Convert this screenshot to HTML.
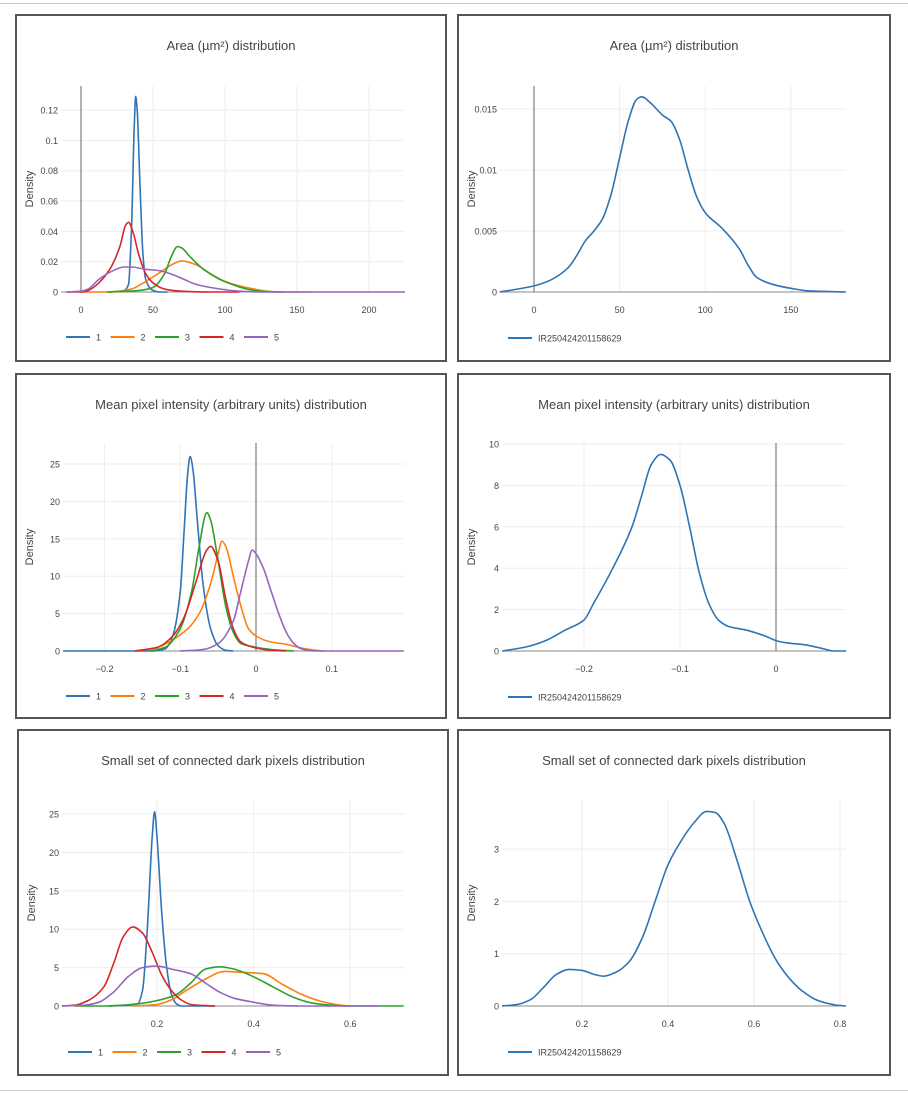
<!DOCTYPE html>
<html><head><meta charset="utf-8"><style>
html,body{margin:0;padding:0;background:#fff;}
svg{display:block;font-family:"Liberation Sans",sans-serif;}
</style></head><body>
<svg id="s" width="908" height="1094" xmlns="http://www.w3.org/2000/svg"></svg>
<script>
// ---- data ----
const seriesNames = ["1","2","3","4","5"];
const sampleName = "IR250424201158629";
const colors = ["#2f74b5","#ff7f0e","#2ca02c","#d62728","#9467bd"];

const areaS1 = [[20,0],[30,0.001],[33,0.005],[35,0.04],[37,0.11],[38,0.129],[39,0.12],[41,0.07],[43,0.025],[45,0.008],[50,0.001],[55,0],[60,0]];
const areaS2 = [[0,0],[20,0],[35,0.002],[45,0.007],[55,0.013],[65,0.019],[70,0.0205],[80,0.018],[90,0.012],[100,0.007],[110,0.004],[120,0.002],[135,0],[160,0]];
const areaS3 = [[18,0],[40,0.001],[50,0.003],[58,0.012],[63,0.024],[67,0.030],[70,0.029],[75,0.024],[85,0.015],[95,0.009],[105,0.005],[115,0.002],[125,0.0005],[140,0]];
const areaS4 = [[-10,0],[0,0],[5,0.001],[10,0.004],[20,0.015],[27,0.03],[31,0.044],[33,0.046],[36,0.04],[40,0.025],[45,0.012],[50,0.006],[55,0.003],[60,0.0015],[70,0.0005],[90,0],[110,0]];
const areaS5 = [[-10,0],[0,0.0005],[5,0.002],[12,0.008],[20,0.013],[30,0.0165],[35,0.0165],[45,0.015],[55,0.014],[62,0.012],[70,0.009],[80,0.005],[90,0.003],[100,0.0015],[110,0.0005],[130,0],[225,0]];
const areaSample = [[-20,0],[0,0.0005],[10,0.001],[20,0.002],[25,0.003],[30,0.0042],[35,0.005],[40,0.006],[45,0.008],[50,0.011],[55,0.014],[60,0.0158],[63,0.016],[68,0.0155],[75,0.0145],[80,0.014],[85,0.0125],[90,0.01],[95,0.0078],[100,0.0065],[110,0.0052],[120,0.0035],[125,0.0022],[130,0.0012],[140,0.0006],[150,0.0003],[160,0.0001],[182,0]];

const mpiS1 = [[-0.255,0],[-0.14,0],[-0.12,0.3],[-0.11,2],[-0.1,8],[-0.095,16],[-0.09,24],[-0.087,26],[-0.083,24],[-0.078,18],[-0.07,9],[-0.06,3],[-0.05,0.7],[-0.04,0.1],[-0.03,0]];
const mpiS2 = [[-0.16,0],[-0.13,0.5],[-0.11,1.5],[-0.09,3],[-0.075,5],[-0.06,9],[-0.05,13],[-0.045,14.7],[-0.04,14],[-0.03,10],[-0.02,6],[-0.01,3],[0,2],[0.02,1.2],[0.04,0.9],[0.06,0.4],[0.08,0.1],[0.09,0]];
const mpiS3 = [[-0.14,0],[-0.12,0.5],[-0.1,3],[-0.085,8],[-0.075,14],[-0.065,18.5],[-0.06,17.5],[-0.05,12],[-0.04,6],[-0.03,2.5],[-0.02,1],[0,0.5],[0.02,0.2],[0.05,0]];
const mpiS4 = [[-0.16,0],[-0.13,0.5],[-0.11,2],[-0.095,4.5],[-0.08,9],[-0.065,13.5],[-0.06,14],[-0.05,12],[-0.04,7],[-0.03,3],[-0.02,1.2],[0,0.4],[0.02,0.1],[0.04,0]];
const mpiS5 = [[-0.1,0],[-0.07,0.2],[-0.05,1],[-0.03,4],[-0.02,8],[-0.01,12],[-0.005,13.5],[0,13],[0.01,11],[0.02,8],[0.03,5],[0.04,2.5],[0.05,1],[0.06,0.3],[0.08,0],[0.195,0]];
const mpiSample = [[-0.285,0],[-0.26,0.2],[-0.24,0.5],[-0.22,1],[-0.2,1.5],[-0.19,2.3],[-0.17,4],[-0.15,6],[-0.14,7.5],[-0.13,9],[-0.12,9.5],[-0.11,9.2],[-0.1,8],[-0.09,6],[-0.08,3.8],[-0.07,2.3],[-0.06,1.5],[-0.05,1.2],[-0.03,1],[-0.01,0.7],[0,0.5],[0.01,0.4],[0.03,0.3],[0.05,0.1],[0.06,0],[0.073,0]];

const darkS1 = [[0.1,0],[0.16,0.3],[0.17,2],[0.18,10],[0.19,22],[0.195,25.3],[0.2,22],[0.21,12],[0.22,5],[0.23,1.5],[0.24,0.3],[0.25,0],[0.32,0]];
const darkS2 = [[0.15,0],[0.2,0.2],[0.23,0.8],[0.26,2],[0.3,3.5],[0.34,4.5],[0.37,4.4],[0.42,4.2],[0.46,2.8],[0.5,1.5],[0.54,0.6],[0.58,0.1],[0.6,0]];
const darkS3 = [[0.03,0],[0.1,0],[0.15,0.2],[0.2,0.7],[0.24,1.5],[0.27,3],[0.3,4.8],[0.33,5.1],[0.36,4.8],[0.4,3.8],[0.44,2.5],[0.48,1.2],[0.52,0.4],[0.56,0.1],[0.6,0],[0.71,0]];
const darkS4 = [[0.003,0],[0.03,0.1],[0.06,0.8],[0.09,2.5],[0.11,5.5],[0.13,9],[0.15,10.3],[0.17,9.5],[0.19,7],[0.21,4],[0.23,2],[0.25,0.8],[0.27,0.2],[0.3,0.05],[0.32,0]];
const darkS5 = [[0.003,0],[0.05,0.1],[0.08,0.5],[0.11,1.8],[0.14,3.8],[0.17,5],[0.2,5.2],[0.23,4.8],[0.27,4.2],[0.3,3],[0.33,1.8],[0.36,1],[0.4,0.5],[0.44,0.1],[0.5,0],[0.66,0]];
const darkSample = [[0.014,0],[0.05,0.03],[0.08,0.12],[0.11,0.35],[0.14,0.6],[0.17,0.7],[0.2,0.68],[0.23,0.6],[0.25,0.57],[0.28,0.65],[0.31,0.85],[0.34,1.3],[0.37,2],[0.4,2.7],[0.43,3.15],[0.46,3.5],[0.49,3.72],[0.51,3.7],[0.53,3.5],[0.56,2.8],[0.59,2],[0.62,1.4],[0.65,0.9],[0.68,0.55],[0.71,0.3],[0.75,0.1],[0.79,0.02],[0.814,0]];

const areaXTicks = [0,50,100,150,200];
const areaYTicks = [0,0.02,0.04,0.06,0.08,0.1,0.12];
const areaSampleYTicks = [0,0.005,0.01,0.015];
const areaSampleXTicks = [0,50,100,150];
const mpiXTicks = [-0.2,-0.1,0,0.1];
const mpiYTicks = [0,5,10,15,20,25];
const mpiSampleXTicks = [-0.2,-0.1,0];
const mpiSampleYTicks = [0,2,4,6,8,10];
const darkXTicks = [0.2,0.4,0.6];
const darkYTicks = [0,5,10,15,20,25];
const darkSampleXTicks = [0.2,0.4,0.6,0.8];
const darkSampleYTicks = [0,1,2,3];

// ---- rendering ----
const NS = "http://www.w3.org/2000/svg";
const svg = document.getElementById('s');
function el(tag, attrs, parent, text){
  const e = document.createElementNS(NS, tag);
  for (const k in attrs) e.setAttribute(k, attrs[k]);
  if (text !== undefined) e.textContent = text;
  (parent||svg).appendChild(e);
  return e;
}
// monotone cubic (Fritsch-Carlson) in screen coords
function smooth(p){
  const n=p.length;
  if(n<2) return "";
  const d=[],m=[];
  for(let i=0;i<n-1;i++) d.push((p[i+1][1]-p[i][1])/(p[i+1][0]-p[i][0]));
  m[0]=d[0]; m[n-1]=d[n-2];
  for(let i=1;i<n-1;i++){
    if(d[i-1]*d[i]<=0) m[i]=0;
    else { const h0=p[i][0]-p[i-1][0],h1=p[i+1][0]-p[i][0];
      const w1=2*h1+h0,w2=h1+2*h0; m[i]=(w1+w2)/(w1/d[i-1]+w2/d[i]); }
  }
  let s="M"+p[0][0].toFixed(1)+","+p[0][1].toFixed(1);
  for(let i=0;i<n-1;i++){
    const h=(p[i+1][0]-p[i][0])/3;
    s+=" C"+(p[i][0]+h).toFixed(1)+","+(p[i][1]+m[i]*h).toFixed(1)+" "+(p[i+1][0]-h).toFixed(1)+","+(p[i+1][1]-m[i+1]*h).toFixed(1)+" "+p[i+1][0].toFixed(1)+","+p[i+1][1].toFixed(1);
  }
  return s;
}
function fmt(v){ return (v<0?"\u2212":"")+String(+Math.abs(v).toFixed(4)); }

const sepTop = el('line',{x1:0,y1:3.5,x2:908,y2:3.5,stroke:'#ccc','stroke-width':1});


const sepBot = el('line',{x1:0,y1:1090.5,x2:908,y2:1090.5,stroke:'#ccc','stroke-width':1});



function panel(cfg){
  const g = el('g',{});
  
  
  const box = el('rect',{x:cfg.box[0],y:cfg.box[1],width:cfg.box[2],height:cfg.box[3],fill:'#fff',stroke:'#555','stroke-width':2},g);
  
  
  const t = el('text',{x:cfg.box[0]+cfg.box[2]/2,y:cfg.box[1]+35,'text-anchor':'middle','font-size':13,fill:'#444'},g,cfg.title);
  
  
  const sx = v => cfg.x0px + (v - cfg.x0v)*cfg.xk;
  const sy = v => cfg.y0px - v*cfg.yk;
  cfg.yticks.forEach(v=>{
    const y=sy(v);
    if (v!==0){
      const gl=el('line',{x1:cfg.left,x2:cfg.right,y1:y,y2:y,stroke:'#eee','stroke-width':1},g);
      
      
    }
    const tl=el('text',{x:cfg.left-3,y:y+3.5,'text-anchor':'end','font-size':9,fill:'#444'},g,fmt(v));
    
    
  });
  cfg.xticks.forEach(v=>{
    const x=sx(v);
    if (v!==0){
      const gl=el('line',{x1:x,x2:x,y1:cfg.top,y2:cfg.y0px,stroke:'#eee','stroke-width':1},g);
      
      
    }
    const tl=el('text',{x:x,y:cfg.y0px+21,'text-anchor':'middle','font-size':9,fill:'#444'},g,fmt(v));
    
    
  });
  const zx=sx(0);
  if (zx>cfg.left && zx<cfg.right){
    const zl=el('line',{x1:zx,x2:zx,y1:cfg.top,y2:cfg.y0px,stroke:'#666','stroke-width':1},g);
    
    
  }
  const bl=el('line',{x1:cfg.left,x2:cfg.right,y1:cfg.y0px,y2:cfg.y0px,stroke:'#888','stroke-width':1},g);
  
  
  const ylab=el('text',{x:0,y:0,'text-anchor':'middle','font-size':11,fill:'#444',transform:'translate('+(cfg.box[0]+17)+','+((cfg.top+cfg.y0px)/2)+') rotate(-90)'},g,'Density');
  
  
  cfg.series.forEach((s,i)=>{
    const pts=s.map(p=>[sx(p[0]),sy(p[1])]);
    const path=el('path',{d:smooth(pts),fill:'none',stroke:colors[i],'stroke-width':1.6,'stroke-linejoin':'round'},g);
    
    
  });
  let lx=cfg.box[0]+50;
  const ly=cfg.legendY;
  cfg.labels.forEach((lab,i)=>{
    const lg=el('g',{},g);
    
    
    el('line',{x1:lx,x2:lx+24,y1:ly,y2:ly,stroke:colors[i],'stroke-width':2},lg);
    el('text',{x:lx+30,y:ly+3.5,'font-size':9,fill:'#444'},lg,lab);
    lx+=44.5;
  });
}

const L=seriesNames;
panel({name:'area-distribution-panel',title:'Area (\u00b5m\u00b2) distribution',box:[16,15,430,346],left:61,right:404,top:86,y0px:292,x0v:0,x0px:81,xk:1.44,yk:1516,xticks:areaXTicks,yticks:areaYTicks,series:[areaS1,areaS2,areaS3,areaS4,areaS5],labels:L,legendY:337});
panel({name:'area-sample-panel',title:'Area (\u00b5m\u00b2) distribution',box:[458,15,432,346],left:500,right:846,top:86,y0px:292,x0v:0,x0px:534,xk:1.713,yk:12200,xticks:areaSampleXTicks,yticks:areaSampleYTicks,series:[areaSample],labels:[sampleName],legendY:338});
panel({name:'mpi-distribution-panel',title:'Mean pixel intensity (arbitrary units) distribution',box:[16,374,430,344],left:63,right:404,top:443,y0px:651,x0v:0,x0px:256,xk:757,yk:7.48,xticks:mpiXTicks,yticks:mpiYTicks,series:[mpiS1,mpiS2,mpiS3,mpiS4,mpiS5],labels:L,legendY:696});
panel({name:'mpi-sample-panel',title:'Mean pixel intensity (arbitrary units) distribution',box:[458,374,432,344],left:502,right:846,top:443,y0px:651,x0v:0,x0px:776,xk:960,yk:20.7,xticks:mpiSampleXTicks,yticks:mpiSampleYTicks,series:[mpiSample],labels:[sampleName],legendY:697});
panel({name:'dark-pixels-distribution-panel',title:'Small set of connected dark pixels distribution',box:[18,730,430,345],left:62,right:404,top:800,y0px:1006,x0v:0.2,x0px:157,xk:483,yk:7.68,xticks:darkXTicks,yticks:darkYTicks,series:[darkS1,darkS2,darkS3,darkS4,darkS5],labels:L,legendY:1052});
panel({name:'dark-pixels-sample-panel',title:'Small set of connected dark pixels distribution',box:[458,730,432,345],left:502,right:846,top:800,y0px:1006,x0v:0.2,x0px:582,xk:430,yk:52.3,xticks:darkSampleXTicks,yticks:darkSampleYTicks,series:[darkSample],labels:[sampleName],legendY:1052});
</script>
</body></html>
